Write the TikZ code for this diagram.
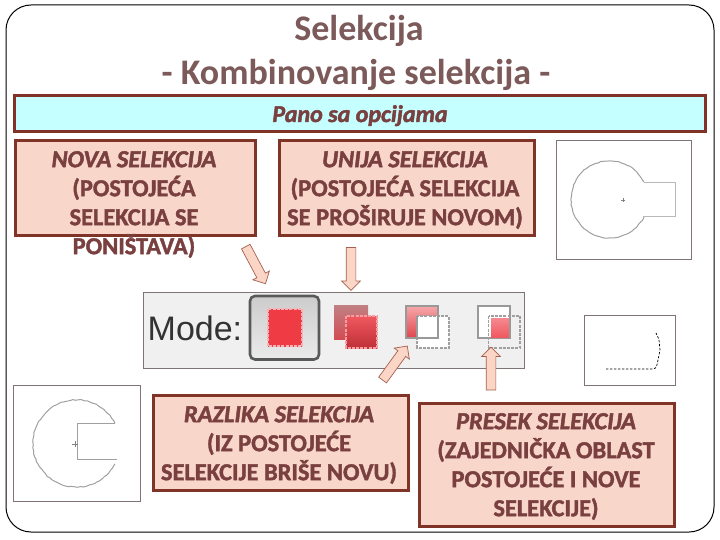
\documentclass[tikz,border=0pt]{standalone}
\usepackage{fontspec}
\setmainfont{Carlito}
\newfontfamily\heavyfont[BoldFont={Carlito Bold},BoldItalicFont={Carlito Bold Italic},BoldFeatures={FakeBold=1.6},BoldItalicFeatures={FakeBold=2}]{Carlito}
\newfontfamily\modefont{Liberation Sans}
\usetikzlibrary{shapes.arrows,decorations.pathmorphing}
\definecolor{boxline}{HTML}{7F3427}
\definecolor{boxfill}{HTML}{F8D6CA}
\definecolor{panofill}{HTML}{C5FFFF}
\definecolor{txtcol}{HTML}{7A4040}
\definecolor{titlecol}{HTML}{7C5A5A}
\definecolor{imgline}{HTML}{7F7373}
\definecolor{arrowfill}{HTML}{FBD5C6}
\definecolor{arrowline}{HTML}{A5604F}
\definecolor{iconred}{HTML}{EE3B44}
\definecolor{selgray}{HTML}{A0A0A0}
\tikzset{
 panelbox/.style={draw=boxline,line width=3pt,fill=boxfill},
 imgbox/.style={draw=imgline,line width=0.9pt,fill=white},
 label/.style={text=txtcol,align=center,inner sep=0pt,font=\fontsize{24.4}{29}\selectfont\heavyfont\bfseries},
 titletext/.style={text=titlecol,inner sep=0pt,anchor=base,font=\fontsize{36}{40}\selectfont\bfseries},
 blockarrow/.style={single arrow,draw=arrowline,fill=arrowfill,line width=0.7pt,minimum width=18pt,single arrow head extend=4.5pt,inner xsep=0pt,inner ysep=4.5pt,outer sep=0pt},
 selline/.style={draw=selgray,line width=1pt},
 rough/.style={decorate,decoration={random steps,segment length=3pt,amplitude=0.5pt}},
 dashsq/.style={draw=selgray,line width=1.6pt,dash pattern=on 3pt off 1.2pt},
 graysq/.style={draw=gray!80,line width=2.2pt},
}
\begin{document}
\begin{tikzpicture}[x=1pt,y=-1pt]
\useasboundingbox (0,0) rectangle (720,540);
\fill[white] (0,0) rectangle (720,540);
\draw[black,line width=1pt,rounded corners=25pt] (6,5) rectangle (714,532);
% title
\node[titletext] (t1) at (359,41) {Selekcija};
\node[titletext] (t2) at (356,85) {- Kombinovanje selekcija -};
% pano
\draw[draw=boxline,line width=3pt,fill=panofill] (14.5,96) rectangle (705.5,131.5);
\node[label,font=\fontsize{24}{26}\selectfont\heavyfont\bfseries\itshape,anchor=base] (pano) at (360,122) {Pano sa opcijama};
% panels
\draw[panelbox] (15.5,140.5) rectangle (255.5,235.5);
\draw[panelbox] (279.5,140.5) rectangle (534.5,235.5);
\draw[panelbox] (153.5,395.5) rectangle (408.5,490.5);
\draw[panelbox] (419,403.5) rectangle (674.5,526.5);
\node[label,anchor=north] (nova) at (134,151) {\textit{NOVA SELEKCIJA}\\(POSTOJEĆA\\SELEKCIJA SE\\PONIŠTAVA)};
\node[label,anchor=north] (unija) at (405,151) {\textit{UNIJA SELEKCIJA}\\(POSTOJEĆA SELEKCIJA\\SE PROŠIRUJE NOVOM)};
\node[label,anchor=north] (razlika) at (279,406) {\textit{RAZLIKA SELEKCIJA}\\(IZ POSTOJEĆE\\SELEKCIJE BRIŠE NOVU)};
\node[label,anchor=north] (presek) at (546,413) {\textit{PRESEK SELEKCIJA}\\(ZAJEDNIČKA OBLAST\\POSTOJEĆE I NOVE\\SELEKCIJE)};
% images
\draw[imgbox] (556.5,140.5) rectangle (691.5,259.5);
\draw[imgbox] (13.5,385.5) rectangle (140.5,501.5);
\draw[imgbox] (584.5,315.5) rectangle (675.5,385.5);
% top-right selection
\draw[selline,rough] (609.5,199.5)++(27:38.5 and -38.5) arc[start angle=27,end angle=333,x radius=38.5,y radius=-38.5];
\draw[draw=gray!55,line width=0.9pt] (644,182) -- (675,182) -- (675,216.5) -- (643,216.5);
\draw[gray,line width=0.5pt] (621,200) -- (625,200) (623,198) -- (623,202);
% left selection
\draw[selline,rough] (76.5,443.5)++(28:43.5 and -43.5) arc[start angle=28,end angle=332,x radius=43.5,y radius=-43.5];
\draw[selline] (115,423) -- (77.5,423) -- (77.5,459.5) -- (117,459.5);
\draw[gray,line width=0.6pt] (72,444) -- (78,444) (75,441) -- (75,447);
% right dashed selection
\draw[black,line width=0.7pt,dash pattern=on 2.4pt off 1.6pt] (606,369) -- (653,369) .. controls (657,369) and (657,364) .. (658,360) -- (660,350) -- (659,340) .. controls (658,337) and (657,335) .. (656,333);
% mode bar
\draw[draw=imgline,line width=0.9pt,fill=black!6] (143.5,292.5) rectangle (524.5,368.5);
\node[text=black!80,inner sep=0pt,anchor=base west,font=\fontsize{34}{34}\modefont] (mode) at (147.5,340) {Mode:};
% button 1
\draw[draw=black!65,line width=2.6pt,rounded corners=5pt,top color=black!20,bottom color=black!8] (250,296) rectangle (319,359.5);
\draw[top color=iconred,bottom color=iconred,draw=white!60!iconred,line width=2.2pt,dash pattern=on 3pt off 1.2pt] (268,309) rectangle (302,346);
% button 2
\fill[top color=iconred!45!gray!80,bottom color=iconred!75!gray] (334,305) rectangle (368,339);
\draw[top color=iconred!85,bottom color=iconred!80!black,draw=white!50!iconred,line width=1.8pt,dash pattern=on 3pt off 1.2pt] (346,316) rectangle (377,348);
% button 3
\draw[graysq,top color=iconred!45,bottom color=iconred!85!gray] (406,306) rectangle (438,338);
\draw[dashsq,fill=white] (417,316) rectangle (449,348);
\draw[graysq] (417,316) -- (417,338) -- (438,338) -- (438,316);
% button 4
\draw[graysq,fill=white] (478,306) rectangle (510,338);
\fill[top color=iconred!60,bottom color=iconred!85] (491,318) rectangle (509,337);
\draw[dashsq] (488.5,316) rectangle (520,348);
% arrows
\node[blockarrow,minimum height=42pt,rotate=-62] (a1) at (254.5,263) {};
\node[blockarrow,minimum height=43pt,rotate=-90] (a2) at (351,266.5) {};
\node[blockarrow,minimum height=42pt,rotate=54] (a3) at (393.5,365) {};
\node[blockarrow,minimum height=43pt,rotate=90] (a4) at (491,371) {};
\end{tikzpicture}
\end{document}
